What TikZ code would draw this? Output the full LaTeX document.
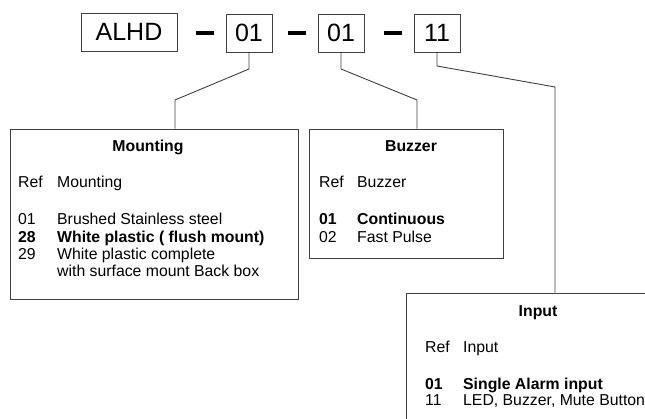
\documentclass[tikz,border=0pt]{standalone}
\usepackage{fontspec}
\setmainfont{Liberation Sans}
\begin{document}
\begin{tikzpicture}[x=1pt,y=-1pt,
  codebox/.style={draw=black!75, line width=0.9pt, inner sep=0pt, font=\fontsize{25}{28}\selectfont, minimum height=38pt},
  infobox/.style={draw=black!75, line width=0.9pt, inner sep=0pt},
  hyph/.style={fill=black, inner sep=0pt, minimum width=18pt, minimum height=4pt},
  conn/.style={draw=black!75, line width=0.9pt},
  txt/.style={anchor=base west, inner sep=0pt, font=\fontsize{15.8}{17.3}\selectfont},
  ttl/.style={anchor=base, inner sep=0pt, font=\fontsize{15.8}{17.3}\selectfont\bfseries},
  bt/.style={txt, font=\fontsize{15.8}{17.3}\selectfont\bfseries}
]
\useasboundingbox (0,0) rectangle (645,419);
\clip (0,0) rectangle (645,419);

% code boxes
\node[codebox, minimum width=96pt] (alhd) at (129,32) {ALHD};
\node[codebox, minimum width=46pt] (m1) at (249,33) {01};
\node[codebox, minimum width=46pt] (m2) at (341,33) {01};
\node[codebox, minimum width=46pt] (m3) at (437,33) {11};
\node[hyph] (h1) at (205,33) {};
\node[hyph] (h2) at (297,33) {};
\node[hyph] (h3) at (393,33) {};

% info boxes
\node[infobox, minimum width=288pt, minimum height=170pt] (mount) at (154,214) {};
\node[infobox, minimum width=194pt, minimum height=129pt] (buzz) at (406,193.5) {};
\node[infobox, minimum width=264pt, minimum height=137pt] (inp) at (538,361.5) {};

% connectors
\coordinate (c1a) at (249,69);
\coordinate (c1b) at (175,100);
\coordinate (c2a) at (341,69);
\coordinate (c2b) at (417,100);
\coordinate (c3a) at (437,66);
\coordinate (c3b) at (555,87);
\draw[conn] (m1.south) -- (c1a) -- (c1b) -- (mount.north -| c1b);
\draw[conn] (m2.south) -- (c2a) -- (c2b) -- (buzz.north -| c2b);
\draw[conn] (m3.south) -- (c3a) -- (c3b) -- (inp.north -| c3b);

% Mounting text
\node[ttl] (mt) at (148,152) {Mounting};
\node[txt] (mr) at (18,188) {Ref};
\node[txt] (mh) at (57,188) {Mounting};
\node[txt] (m01) at (18,225) {01};
\node[txt] (m01t) at (57,225) {Brushed Stainless steel};
\node[bt] (m28) at (18,242.5) {28};
\node[bt] (m28t) at (57,242.5) {White plastic ( flush mount)};
\node[txt] (m29) at (18,260) {29};
\node[txt] (m29t) at (57,260) {White plastic complete};
\node[txt] (m29u) at (57,277) {with surface mount Back box};

% Buzzer text
\node[ttl] (bt) at (411,152) {Buzzer};
\node[txt] (br) at (319,188) {Ref};
\node[txt] (bh) at (357,188) {Buzzer};
\node[bt] (b01) at (319,225) {01};
\node[bt] (b01t) at (357,225) {Continuous};
\node[txt] (b02) at (319,242.5) {02};
\node[txt] (b02t) at (357,242.5) {Fast Pulse};

% Input text
\node[ttl] (it) at (538,317) {Input};
\node[txt] (ir) at (425,353) {Ref};
\node[txt] (ih) at (463,353) {Input};
\node[bt] (i01) at (425,389) {01};
\node[bt] (i01t) at (463,389) {Single Alarm input};
\node[txt] (i11) at (425,406) {11};
\node[txt] (i11t) at (463,406) {LED, Buzzer, Mute Button};
\end{tikzpicture}
\end{document}
